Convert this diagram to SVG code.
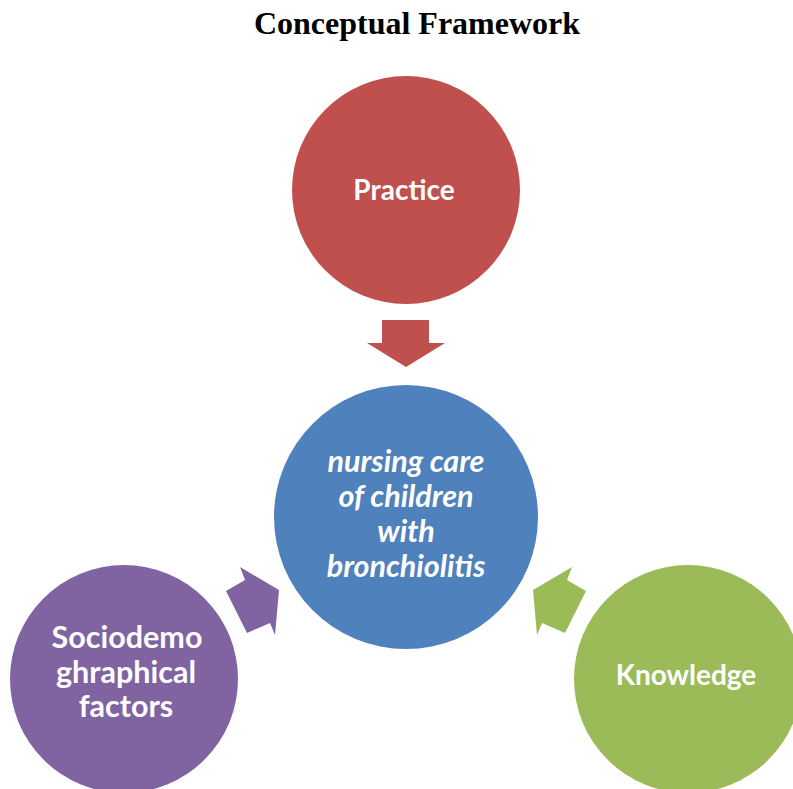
<svg xmlns="http://www.w3.org/2000/svg" width="793" height="789" viewBox="0 0 793 789">
<style>
.t{font-family:Lato,"Open Sans","Liberation Sans",sans-serif;font-weight:bold;font-size:28px;fill:#FFFFFF;text-anchor:middle}
.big{font-size:30.5px}
.it{font-style:italic}
.title{font-family:"Liberation Serif","Times New Roman",serif;font-weight:bold;font-size:32px;fill:#000000;text-anchor:middle}
</style>
<rect width="793" height="789" fill="#FFFFFF"/>
<text class="title" x="417" y="34">Conceptual Framework</text>
<g id="connectors">
<polygon points="382,320 429,320 429,343 445,343 406,367 367,343 382,343" fill="#C0504D"/>
<polygon points="240,567 279,590 275,635 270,623 247,633 226,591 245,580" fill="#8064A2"/>
<polygon points="572,567 533,590 537,635 542,623 565,633 586,591 567,580" fill="#9BBB59"/>
</g>
<g id="practice">
<circle cx="406" cy="190" r="114" fill="#C0504D"/>
<text class="t" x="404" y="200">Practice</text>
</g>
<g id="center">
<circle cx="406" cy="517" r="132" fill="#4F81BD"/>
<text class="t big it" x="406" y="472">nursing care</text>
<text class="t big it" x="406" y="507">of children</text>
<text class="t big it" x="406" y="542">with</text>
<text class="t big it" x="406" y="577">bronchiolitis</text>
</g>
<g id="sociodemographical">
<circle cx="124" cy="679" r="114" fill="#8064A2"/>
<text class="t big" x="127" y="648">Sociodemo</text>
<text class="t big" x="126" y="683">ghraphical</text>
<text class="t big" x="126" y="717">factors</text>
</g>
<g id="knowledge">
<circle cx="688" cy="679" r="114" fill="#9BBB59"/>
<text class="t" x="686" y="685">Knowledge</text>
</g>
</svg>
